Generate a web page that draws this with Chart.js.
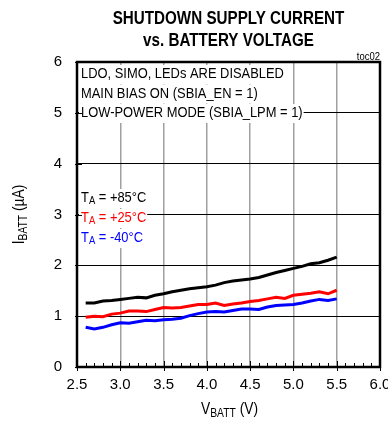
<!DOCTYPE html>
<html>
<head>
<meta charset="utf-8">
<script src="https://cdn.jsdelivr.net/npm/chart.js@4.4.1/dist/chart.umd.min.js"></script>
<style>
  body { margin: 0; background: #fff; }
  #wrap { width: 388px; height: 427px; }
</style>
</head>
<body>
<div id="wrap"><canvas id="chart" width="388" height="427"></canvas></div>
<script>
// battery voltage (V)
const vbatt = [2.6, 2.7, 2.8, 2.9, 3.0, 3.1, 3.2, 3.3, 3.4, 3.5, 3.6, 3.7, 3.8, 3.9, 4.0,
               4.1, 4.2, 4.3, 4.4, 4.5, 4.6, 4.7, 4.8, 4.9, 5.0, 5.1, 5.2, 5.3, 5.4, 5.5];
// shutdown supply current (uA)
const i85 = [1.26, 1.26, 1.30, 1.31, 1.33, 1.35, 1.37, 1.36, 1.41, 1.44, 1.48, 1.51, 1.54, 1.56, 1.58,
             1.61, 1.66, 1.69, 1.71, 1.73, 1.76, 1.81, 1.86, 1.90, 1.94, 1.98, 2.03, 2.05, 2.10, 2.16];
const i25 = [0.98, 1.00, 0.99, 1.04, 1.06, 1.10, 1.10, 1.09, 1.13, 1.17, 1.16, 1.17, 1.20, 1.23, 1.23,
             1.26, 1.21, 1.24, 1.26, 1.29, 1.31, 1.34, 1.37, 1.35, 1.41, 1.43, 1.45, 1.48, 1.44, 1.51];
const iM40 = [0.78, 0.75, 0.78, 0.83, 0.87, 0.86, 0.89, 0.92, 0.91, 0.93, 0.94, 0.96, 1.01, 1.05, 1.08,
              1.09, 1.08, 1.11, 1.14, 1.14, 1.13, 1.18, 1.21, 1.22, 1.23, 1.26, 1.30, 1.33, 1.31, 1.34];

const seriesNames = ['+85°C', '+25°C', '-40°C'];
const seriesColors = ['#000000', '#ff0000', '#0000ff'];
const notes = ['LDO, SIMO, LEDs ARE DISABLED', 'MAIN BIAS ON (SBIA_EN = 1)', 'LOW-POWER MODE (SBIA_LPM = 1)'];

const FONT = '"Liberation Sans", Arial, sans-serif';
const NARROW = 0.86; // squeeze to look like Arial Narrow

const pts = (ys) => vbatt.map((v, i) => ({ x: v, y: ys[i] }));

// "main" + subscript + rest, drawn squeezed; returns the drawn width
function subText(ctx, x, y, main, sub, rest, size, measureOnly) {
    const big = size + 'px ' + FONT;
    const small = Math.round(size * 0.72) + 'px ' + FONT;
    ctx.font = big;
    const w1 = ctx.measureText(main).width;
    ctx.font = small;
    const w2 = ctx.measureText(sub).width;
    ctx.font = big;
    const w3 = ctx.measureText(rest).width;
    if (!measureOnly) {
        ctx.save();
        ctx.translate(x, y);
        ctx.scale(NARROW, 1);
        ctx.fillText(main, 0, 0);
        ctx.font = small;
        ctx.fillText(sub, w1, size * 0.22);
        ctx.font = big;
        ctx.fillText(rest, w1 + w2, 0);
        ctx.restore();
    }
    return (w1 + w2 + w3) * NARROW;
}

function narrowText(ctx, t, x, y, font, sx) {
    ctx.save();
    ctx.font = font;
    ctx.translate(x, y);
    ctx.scale(sx, 1);
    ctx.fillText(t, 0, 0);
    const w = ctx.measureText(t).width * sx;
    ctx.restore();
    return w;
}

const decor = {
    id: 'decor',
    beforeDatasetsDraw(chart) {
        const ctx = chart.ctx;
        const a = chart.chartArea;
        ctx.save();
        ctx.textBaseline = 'middle';
        ctx.textAlign = 'left';
        // condition notes
        const nf = '15px ' + FONT;
        notes.forEach((t, i) => {
            const y = a.top + 12 + i * 19.5;
            ctx.font = nf;
            const w = ctx.measureText(t).width * NARROW;
            ctx.fillStyle = '#fff';
            ctx.fillRect(a.left + 2, y - 9, w + 3, 19);
            ctx.fillStyle = '#000';
            narrowText(ctx, t, a.left + 4, y, nf, NARROW);
        });
        // temperature labels
        seriesNames.forEach((t, i) => {
            const y = a.top + 136 + i * 20;
            const w = subText(ctx, 0, 0, 'T', 'A', ' = ' + t, 15, true);
            ctx.fillStyle = '#fff';
            ctx.fillRect(a.left + 2, y - 9, w + 3, 19);
            ctx.fillStyle = seriesColors[i];
            subText(ctx, a.left + 4, y, 'T', 'A', ' = ' + t, 15, false);
        });
        ctx.restore();
    },
    afterDraw(chart) {
        const ctx = chart.ctx;
        const a = chart.chartArea;
        const xs = chart.scales.x;
        const ys = chart.scales.y;
        ctx.save();
        // minor ticks on bottom axis
        ctx.strokeStyle = '#000';
        ctx.lineWidth = 1;
        for (let k = 25; k <= 60; k++) {
            const px = Math.round(xs.getPixelForValue(k / 10)) + 0.5;
            const major = k % 5 === 0;
            ctx.beginPath();
            ctx.moveTo(px, a.bottom - (major ? 6 : 4));
            ctx.lineTo(px, a.bottom + (major ? 4 : 0));
            ctx.stroke();
        }
        for (let k = 0; k <= 6; k++) {
            const py = Math.round(ys.getPixelForValue(k)) + 0.5;
            ctx.beginPath();
            ctx.moveTo(a.left - 2, py);
            ctx.lineTo(a.left + 5, py);
            ctx.stroke();
        }
        // frame
        ctx.lineWidth = 2.5;
        ctx.strokeRect(a.left, a.top, a.right - a.left, a.bottom - a.top);

        // titles
        ctx.fillStyle = '#000';
        ctx.textAlign = 'left';
        ctx.textBaseline = 'middle';
        const tf = 'bold 19px ' + FONT;
        const cx = (a.left + a.right) / 2;
        ctx.font = tf;
        ['SHUTDOWN SUPPLY CURRENT', 'vs. BATTERY VOLTAGE'].forEach((t, i) => {
            const w = ctx.measureText(t).width * 0.8;
            narrowText(ctx, t, cx - w / 2, 19 + i * 22, tf, 0.8);
        });

        ctx.font = '10px ' + FONT;
        const tw = ctx.measureText('toc02').width * 0.95;
        narrowText(ctx, 'toc02', a.right - tw, a.top - 5, '10px ' + FONT, 0.95);

        // x axis title
        const wx = subText(ctx, 0, 0, 'V', 'BATT', ' (V)', 16, true);
        subText(ctx, cx - wx / 2 + 1, 410, 'V', 'BATT', ' (V)', 16, false);

        // y axis title
        ctx.translate(20, (a.top + a.bottom) / 2);
        ctx.rotate(-Math.PI / 2);
        const wy = subText(ctx, 0, 0, 'I', 'BATT', ' (µA)', 16, true);
        subText(ctx, -wy / 2, 0, 'I', 'BATT', ' (µA)', 16, false);
        ctx.restore();
    }
};

new Chart(document.getElementById('chart'), {
    type: 'line',
    data: {
        datasets: [
            { label: seriesNames[0], data: pts(i85), borderColor: seriesColors[0] },
            { label: seriesNames[1], data: pts(i25), borderColor: seriesColors[1] },
            { label: seriesNames[2], data: pts(iM40), borderColor: seriesColors[2] },
        ]
    },
    options: {
        responsive: false,
        animation: false,
        devicePixelRatio: 1,
        layout: { padding: { left: 0, right: 8, top: 62, bottom: 0 } },
        elements: {
            point: { radius: 0 },
            line: { borderWidth: 3, tension: 0 }
        },
        plugins: {
            legend: { display: false },
            title: { display: false },
            tooltip: { enabled: false }
        },
        scales: {
            x: {
                type: 'linear',
                min: 2.5,
                max: 6.0,
                afterFit: (s) => {
                    s.height = 60;
                    s.paddingLeft = 0;
                    s.paddingRight = 0;
                },
                ticks: {
                    stepSize: 0.5,
                    padding: 9,
                    color: '#000',
                    maxRotation: 0,
                    font: { family: FONT, size: 15 },
                    callback: (v) => v.toFixed(1)
                },
                grid: { color: '#a0a0a0', lineWidth: 1.5, drawTicks: false },
                border: { display: false }
            },
            y: {
                min: 0,
                max: 6,
                afterFit: (s) => {
                    s.width = 77;
                    s.paddingTop = 0;
                    s.paddingBottom = 0;
                },
                ticks: {
                    stepSize: 1,
                    padding: 15,
                    color: '#000',
                    font: { family: FONT, size: 15 }
                },
                grid: { color: '#000', lineWidth: 1, drawTicks: false },
                border: { display: false }
            }
        }
    },
    plugins: [decor]
});
</script>
</body>
</html>
